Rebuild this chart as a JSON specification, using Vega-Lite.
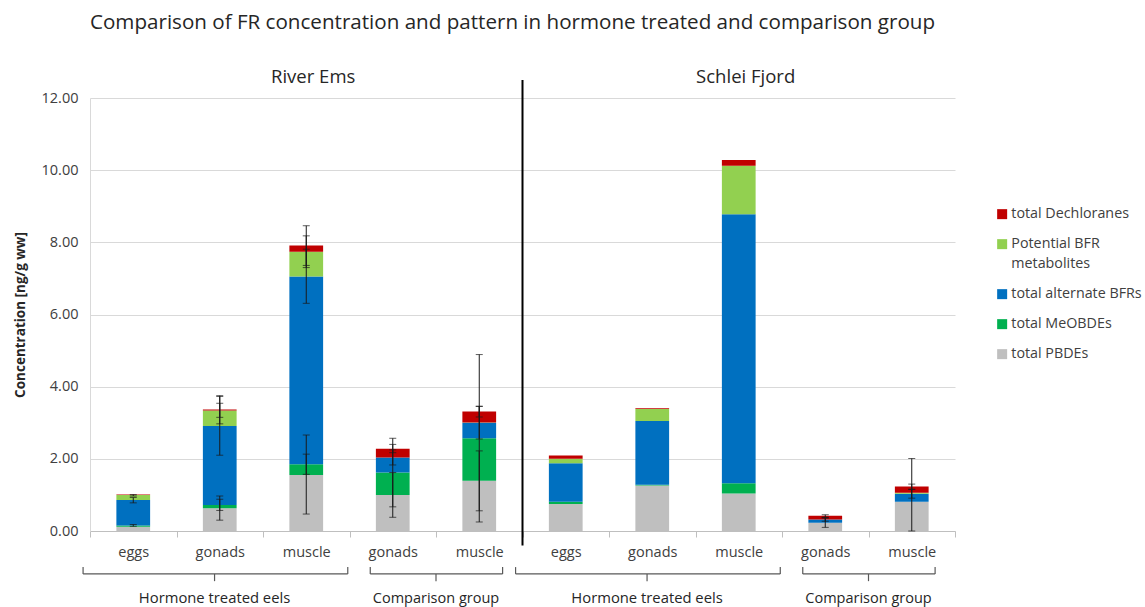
{
  "$schema": "https://vega.github.io/schema/vega-lite/v6.json",
  "width": 865,
  "height": 433,
  "autosize": {"type": "none"},
  "padding": {"left": 90, "top": 98, "right": 190, "bottom": 76},
  "background": "white",
  "title": {"text": "Comparison of FR concentration and pattern in hormone treated and comparison group", "fontSize": 20.6, "font": "Open Sans", "fontWeight": "normal", "color": "#262626", "anchor": "middle", "frame": "group", "offset": 34, "dx": -10},
  "config": {
    "view": {"stroke": null},
    "font": "Open Sans",
    "style": {"guide-label": {"lineHeight": 20}},
    "axisX": {"labelExpr": "split(datum.label, '|')[2]", "tickBand": "extent", "domainColor": "#bfbfbf", "tickColor": "#bfbfbf", "tickSize": 6, "labelFontSize": 14.5, "labelColor": "#404040", "labelPadding": 8, "labelAngle": 0, "grid": false, "labelFont": "Open Sans"},
    "axisY": {"format": ".2f", "labelFontSize": 14.5, "labelColor": "#404040", "labelPadding": 12, "ticks": false, "domainColor": "#d9d9d9", "gridColor": "#d9d9d9", "titleFontSize": 13.5, "titleFontWeight": "bold", "titleColor": "#262626", "titlePadding": 14, "labelFont": "Open Sans", "titleFont": "Open Sans"}
  },
  "datasets": {
    "bars": [
      {"key": "E|HT|eggs", "total PBDEs": 0.12, "total MeOBDEs": 0.03, "total alternate BFRs": 0.71, "Potential BFR metabolites": 0.14, "total Dechloranes": 0.01},
      {"key": "E|HT|gonads", "total PBDEs": 0.63, "total MeOBDEs": 0.09, "total alternate BFRs": 2.19, "Potential BFR metabolites": 0.43, "total Dechloranes": 0.03},
      {"key": "E|HT|muscle", "total PBDEs": 1.55, "total MeOBDEs": 0.30, "total alternate BFRs": 5.20, "Potential BFR metabolites": 0.69, "total Dechloranes": 0.17},
      {"key": "E|CG|gonads", "total PBDEs": 1.00, "total MeOBDEs": 0.62, "total alternate BFRs": 0.42, "Potential BFR metabolites": 0.00, "total Dechloranes": 0.24},
      {"key": "E|CG|muscle", "total PBDEs": 1.39, "total MeOBDEs": 1.18, "total alternate BFRs": 0.43, "Potential BFR metabolites": 0.01, "total Dechloranes": 0.30},
      {"key": "S|HT|eggs", "total PBDEs": 0.75, "total MeOBDEs": 0.06, "total alternate BFRs": 1.07, "Potential BFR metabolites": 0.12, "total Dechloranes": 0.09},
      {"key": "S|HT|gonads", "total PBDEs": 1.26, "total MeOBDEs": 0.02, "total alternate BFRs": 1.77, "Potential BFR metabolites": 0.33, "total Dechloranes": 0.02},
      {"key": "S|HT|muscle", "total PBDEs": 1.04, "total MeOBDEs": 0.28, "total alternate BFRs": 7.46, "Potential BFR metabolites": 1.34, "total Dechloranes": 0.16},
      {"key": "S|CG|gonads", "total PBDEs": 0.23, "total MeOBDEs": 0.00, "total alternate BFRs": 0.09, "Potential BFR metabolites": 0.00, "total Dechloranes": 0.10},
      {"key": "S|CG|muscle", "total PBDEs": 0.81, "total MeOBDEs": 0.00, "total alternate BFRs": 0.22, "Potential BFR metabolites": 0.03, "total Dechloranes": 0.17}
    ],
    "errors": [
      {"key": "E|HT|eggs", "lo": 0.13, "hi": 0.18},
      {"key": "E|HT|eggs", "lo": 0.78, "hi": 0.93},
      {"key": "E|HT|eggs", "lo": 0.97, "hi": 1.01},
      {"key": "E|HT|gonads", "lo": 0.30, "hi": 0.97},
      {"key": "E|HT|gonads", "lo": 0.57, "hi": 0.88},
      {"key": "E|HT|gonads", "lo": 2.10, "hi": 3.73},
      {"key": "E|HT|gonads", "lo": 3.15, "hi": 3.54},
      {"key": "E|HT|gonads", "lo": 2.97, "hi": 3.75},
      {"key": "E|HT|muscle", "lo": 0.47, "hi": 2.66},
      {"key": "E|HT|muscle", "lo": 1.57, "hi": 2.13},
      {"key": "E|HT|muscle", "lo": 6.31, "hi": 7.81},
      {"key": "E|HT|muscle", "lo": 7.30, "hi": 8.18},
      {"key": "E|HT|muscle", "lo": 7.36, "hi": 8.46},
      {"key": "E|CG|gonads", "lo": 0.38, "hi": 1.62},
      {"key": "E|CG|gonads", "lo": 0.67, "hi": 2.57},
      {"key": "E|CG|gonads", "lo": 1.83, "hi": 2.25},
      {"key": "E|CG|gonads", "lo": 2.17, "hi": 2.40},
      {"key": "E|CG|muscle", "lo": 0.56, "hi": 2.22},
      {"key": "E|CG|muscle", "lo": 0.25, "hi": 4.89},
      {"key": "E|CG|muscle", "lo": 2.55, "hi": 3.45},
      {"key": "E|CG|muscle", "lo": 3.16, "hi": 3.46},
      {"key": "S|CG|gonads", "lo": 0.10, "hi": 0.36},
      {"key": "S|CG|gonads", "lo": 0.27, "hi": 0.37},
      {"key": "S|CG|gonads", "lo": 0.38, "hi": 0.45},
      {"key": "S|CG|muscle", "lo": 0.0, "hi": 2.01},
      {"key": "S|CG|muscle", "lo": 0.91, "hi": 1.15},
      {"key": "S|CG|muscle", "lo": 1.16, "hi": 1.30}
    ],
    "sites": [
      {"key": "E|HT|muscle", "label": "River Ems"},
      {"key": "S|HT|muscle", "label": "Schlei Fjord"}
    ],
    "braces": [
      {"type": "HT", "from": "E|HT|eggs", "to": "E|HT|muscle", "mid": "E|HT|gonads", "label": "Hormone treated eels"},
      {"type": "CG", "from": "E|CG|gonads", "to": "E|CG|muscle", "mid": "E|CG|muscle", "label": "Comparison group"},
      {"type": "HT", "from": "S|HT|eggs", "to": "S|HT|muscle", "mid": "S|HT|gonads", "label": "Hormone treated eels"},
      {"type": "CG", "from": "S|CG|gonads", "to": "S|CG|muscle", "mid": "S|CG|muscle", "label": "Comparison group"}
    ],
    "one": [{"key": "S|HT|eggs"}]
  },
  "layer": [
    {
      "data": {"name": "bars"},
      "transform": [
        {"fold": ["total PBDEs", "total MeOBDEs", "total alternate BFRs", "Potential BFR metabolites", "total Dechloranes"], "as": ["component", "value"]},
        {"calculate": "indexof(['total PBDEs','total MeOBDEs','total alternate BFRs','Potential BFR metabolites','total Dechloranes'], datum.component)", "as": "ord"}
      ],
      "mark": {"type": "bar", "width": {"band": 0.39}},
      "encoding": {
        "x": {"field": "key", "type": "nominal", "title": null, "scale": {"domain": ["E|HT|eggs", "E|HT|gonads", "E|HT|muscle", "E|CG|gonads", "E|CG|muscle", "S|HT|eggs", "S|HT|gonads", "S|HT|muscle", "S|CG|gonads", "S|CG|muscle"], "paddingInner": 0, "paddingOuter": 0}},
        "y": {"field": "value", "type": "quantitative", "stack": "zero", "title": "Concentration [ng/g ww]", "scale": {"domain": [0, 12], "nice": false}, "axis": {"values": [0, 2, 4, 6, 8, 10, 12]}},
        "color": {"field": "component", "type": "nominal", "scale": {"domain": ["total Dechloranes", "Potential BFR metabolites", "total alternate BFRs", "total MeOBDEs", "total PBDEs"], "range": ["#C00000", "#92D050", "#0070C0", "#00B050", "#BFBFBF"]},
          "legend": {"orient": "none", "legendX": 905, "legendY": 109, "title": null, "symbolType": "square", "symbolSize": 100, "symbolStrokeWidth": 0, "labelFontSize": 14.3, "labelColor": "#404040", "labelFont": "Open Sans", "rowPadding": 15, "padding": 0, "labelOffset": 2, "labelLimit": 200, "labelExpr": "datum.label == 'Potential BFR metabolites' ? ['Potential BFR', 'metabolites'] : datum.label"}},
        "order": {"field": "ord", "type": "quantitative"}
      }
    },
    {
      "data": {"name": "errors"},
      "mark": {"type": "errorbar", "ticks": {"size": 7}, "color": "#1a1a1a", "thickness": 1},
      "encoding": {
        "x": {"field": "key", "type": "nominal", "title": null},
        "y": {"field": "lo", "type": "quantitative", "title": "Concentration [ng/g ww]", "scale": {"domain": [0, 12], "nice": false}},
        "y2": {"field": "hi"}
      }
    },
    {
      "data": {"name": "one"},
      "mark": {"type": "rule", "color": "black", "strokeWidth": 2, "clip": false},
      "encoding": {
        "x": {"field": "key", "type": "nominal", "bandPosition": 0, "title": null},
        "y": {"datum": -0.4, "scale": {"domain": [0, 12], "nice": false}, "title": "Concentration [ng/g ww]"},
        "y2": {"datum": 12.5}
      }
    },
    {
      "data": {"name": "sites"},
      "mark": {"type": "text", "fontSize": 18.5, "color": "#262626", "baseline": "middle", "align": "center", "font": "Open Sans"},
      "encoding": {
        "x": {"field": "key", "type": "nominal", "bandPosition": 0.58, "title": null},
        "y": {"datum": 12.58, "scale": {"domain": [0, 12], "nice": false}, "title": "Concentration [ng/g ww]"},
        "text": {"field": "label"}
      }
    },
    {
      "data": {"name": "braces"},
      "transform": [{"filter": "datum.type == 'HT'"}],
      "layer": [
        {"mark": {"type": "rule", "color": "#595959", "strokeWidth": 1.2},
         "encoding": {"x": {"field": "from", "type": "nominal", "bandPosition": -0.08, "title": null}, "x2": {"field": "to", "bandPosition": 0.98}, "y": {"datum": -1.19, "scale": {"domain": [0, 12], "nice": false}, "title": "Concentration [ng/g ww]"}}},
        {"mark": {"type": "rule", "color": "#595959", "strokeWidth": 1.2},
         "encoding": {"x": {"field": "from", "type": "nominal", "bandPosition": -0.08, "title": null}, "y": {"datum": -1.19, "scale": {"domain": [0, 12], "nice": false}, "title": "Concentration [ng/g ww]"}, "y2": {"datum": -1.0}}},
        {"mark": {"type": "rule", "color": "#595959", "strokeWidth": 1.2},
         "encoding": {"x": {"field": "to", "type": "nominal", "bandPosition": 0.98, "title": null}, "y": {"datum": -1.19, "scale": {"domain": [0, 12], "nice": false}, "title": "Concentration [ng/g ww]"}, "y2": {"datum": -1.0}}},
        {"mark": {"type": "rule", "color": "#595959", "strokeWidth": 1.2},
         "encoding": {"x": {"field": "mid", "type": "nominal", "bandPosition": 0.44, "title": null}, "y": {"datum": -1.19, "scale": {"domain": [0, 12], "nice": false}, "title": "Concentration [ng/g ww]"}, "y2": {"datum": -1.39}}},
        {"mark": {"type": "text", "fontSize": 14.8, "color": "#262626", "baseline": "middle", "align": "center", "font": "Open Sans"},
         "encoding": {"x": {"field": "mid", "type": "nominal", "bandPosition": 0.44, "title": null}, "y": {"datum": -1.88, "scale": {"domain": [0, 12], "nice": false}, "title": "Concentration [ng/g ww]"}, "text": {"field": "label"}}}
      ]
    },
    {
      "data": {"name": "braces"},
      "transform": [{"filter": "datum.type == 'CG'"}],
      "layer": [
        {"mark": {"type": "rule", "color": "#595959", "strokeWidth": 1.2},
         "encoding": {"x": {"field": "from", "type": "nominal", "bandPosition": 0.24, "title": null}, "x2": {"field": "to", "bandPosition": 0.77}, "y": {"datum": -1.19, "scale": {"domain": [0, 12], "nice": false}, "title": "Concentration [ng/g ww]"}}},
        {"mark": {"type": "rule", "color": "#595959", "strokeWidth": 1.2},
         "encoding": {"x": {"field": "from", "type": "nominal", "bandPosition": 0.24, "title": null}, "y": {"datum": -1.19, "scale": {"domain": [0, 12], "nice": false}, "title": "Concentration [ng/g ww]"}, "y2": {"datum": -1.0}}},
        {"mark": {"type": "rule", "color": "#595959", "strokeWidth": 1.2},
         "encoding": {"x": {"field": "to", "type": "nominal", "bandPosition": 0.77, "title": null}, "y": {"datum": -1.19, "scale": {"domain": [0, 12], "nice": false}, "title": "Concentration [ng/g ww]"}, "y2": {"datum": -1.0}}},
        {"mark": {"type": "rule", "color": "#595959", "strokeWidth": 1.2},
         "encoding": {"x": {"field": "mid", "type": "nominal", "bandPosition": 0.0, "title": null}, "y": {"datum": -1.19, "scale": {"domain": [0, 12], "nice": false}, "title": "Concentration [ng/g ww]"}, "y2": {"datum": -1.39}}},
        {"mark": {"type": "text", "fontSize": 14.5, "color": "#262626", "baseline": "middle", "align": "center", "font": "Open Sans"},
         "encoding": {"x": {"field": "mid", "type": "nominal", "bandPosition": 0.0, "title": null}, "y": {"datum": -1.88, "scale": {"domain": [0, 12], "nice": false}, "title": "Concentration [ng/g ww]"}, "text": {"field": "label"}}}
      ]
    }
  ]
}
